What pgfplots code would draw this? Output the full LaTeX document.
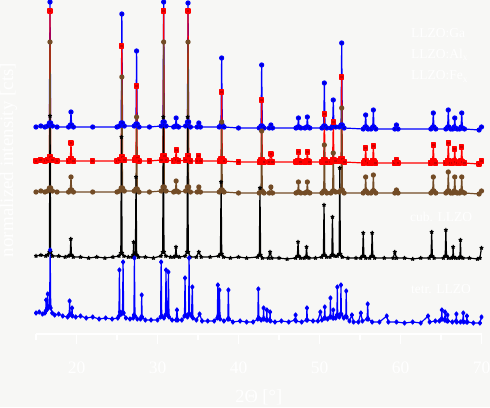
\documentclass[border=0pt]{standalone}
\usepackage{fontspec}
\setmainfont{Liberation Serif}
\usepackage{pgfplots}
\pgfplotsset{compat=1.18}
\definecolor{bg}{RGB}{247,247,245}
\begin{document}
\begin{tikzpicture}
\useasboundingbox (0pt,0pt) rectangle (490pt,407pt);
\fill[bg] (0pt,0pt) rectangle (490pt,407pt);
\begin{axis}[
  at={(36pt,73pt)}, anchor=south west,
  scale only axis, width=445.5pt, height=334pt,
  xmin=15, xmax=70, ymin=0, ymax=334,
  axis x line*=bottom, axis y line*=left,
  y axis line style={draw=none}, ytick=\empty,
  x axis line style={white, line width=1.5pt},
  xtick={20,30,...,70}, minor xtick={15,25,...,65},
  tick align=outside,
  major tick length=10pt, minor tick length=6pt,
  tick style={white, line width=1.2pt},
  /pgf/number format/assume math mode=true,
  xticklabel style={font=\fontsize{17.5}{20}\selectfont, text=white, anchor=base, yshift=-29pt},
  xlabel={2Θ [°]},
  xlabel style={at={(axis description cs:0.5,-0.189)}, anchor=center, font=\fontsize{18.5}{22}\selectfont, text=white},
  ylabel={normalized intensity [cts]},
  ylabel style={at={(axis description cs:-0.0617,0.521)}, anchor=center, font=\fontsize{19}{22}\selectfont, text=white},
  every axis plot/.append style={white, line width=1.2pt, line join=round, mark=none},
]
% LLZO:Ga
\addplot coordinates {(15,207) (15.6,208) (16.1,207) (16.43,208) (16.65,211) (16.73,332) (16.81,211) (17.03,208) (17.6,207) (19.02,207) (19.24,209) (19.32,222) (19.40,209) (19.62,207) (22,207) (25.0,207) (25.30,208) (25.52,211) (25.60,320) (25.68,211) (25.90,208) (27.12,208) (27.34,210) (27.42,283) (27.50,210) (27.72,207) (29,207) (30.46,208) (30.68,212) (30.76,332) (30.84,212) (31.06,208) (32.0,207) (32.22,208) (32.30,216) (32.38,208) (32.6,207) (33.47,208) (33.69,212) (33.77,331) (33.85,212) (34.07,207) (34.9,207) (35.1,211) (35.3,207) (37.62,207) (37.84,209) (37.92,276) (38.0,209) (38.22,207) (40,206) (42.56,206) (42.78,208) (42.86,269) (42.94,208) (43.16,206) (43.8,206) (44.0,209) (44.2,206) (47.1,206) (47.32,207) (47.40,216) (47.48,207) (47.7,206) (48.2,206) (48.42,207) (48.50,217) (48.58,207) (48.8,206) (50.3,206) (50.52,208) (50.60,251) (50.68,208) (50.9,206) (51.4,206) (51.62,208) (51.70,234) (51.78,208) (52.0,207) (52.44,207) (52.66,209) (52.74,291) (52.82,209) (53.04,206) (55.4,205) (55.62,207) (55.70,219) (55.78,207) (56.0,205) (56.35,205) (56.57,207) (56.65,224) (56.73,207) (56.95,205) (59.3,205) (59.5,209) (59.7,205) (63.75,205) (63.97,207) (64.05,221) (64.13,207) (64.35,205) (65.6,205) (65.82,207) (65.90,224) (65.98,207) (66.2,205) (66.45,205) (66.62,207) (66.70,216) (66.78,206) (67.0,205) (67.3,205) (67.48,207) (67.56,221) (67.64,206) (67.9,205) (69.7,204) (70,207)};
% LLZO:Al
\addplot coordinates {(15,173) (15.6,174) (16.1,173) (16.43,174) (16.65,177) (16.73,323) (16.81,177) (17.03,174) (17.6,173) (19.02,173) (19.24,175) (19.32,191) (19.40,175) (19.62,173) (22,173) (25.0,173) (25.30,174) (25.52,177) (25.60,288) (25.68,177) (25.90,174) (27.12,174) (27.34,176) (27.42,248) (27.50,176) (27.72,173) (29,173) (30.46,174) (30.68,178) (30.76,323) (30.84,178) (31.06,174) (32.0,173) (32.22,174) (32.30,184) (32.38,174) (32.6,173) (33.47,174) (33.69,178) (33.77,323) (33.85,178) (34.07,173) (34.9,173) (35.1,178) (35.3,173) (37.62,173) (37.84,175) (37.92,242) (38.0,175) (38.22,173) (40,172) (42.56,172) (42.78,174) (42.86,234) (42.94,174) (43.16,172) (43.8,172) (44.0,180) (44.2,172) (47.1,172) (47.32,173) (47.40,182) (47.48,173) (47.7,172) (48.2,172) (48.42,173) (48.50,182) (48.58,173) (48.8,172) (50.3,172) (50.52,174) (50.60,220) (50.68,174) (50.9,172) (51.4,172) (51.62,174) (51.70,212) (51.78,174) (52.0,173) (52.44,173) (52.66,175) (52.74,257) (52.82,175) (53.04,172) (55.4,171) (55.62,173) (55.70,186) (55.78,173) (56.0,171) (56.35,171) (56.57,173) (56.65,188) (56.73,173) (56.95,171) (59.3,171) (59.5,174) (59.7,171) (63.75,171) (63.97,173) (64.05,189) (64.13,173) (64.35,171) (65.6,171) (65.82,173) (65.90,191) (65.98,173) (66.2,171) (66.45,171) (66.62,173) (66.70,185) (66.78,172) (67.0,171) (67.3,171) (67.48,173) (67.56,187) (67.64,172) (67.9,171) (69.7,170) (70,173)};
% LLZO:Fe
\addplot coordinates {(15,142) (15.6,143) (16.1,142) (16.43,143) (16.65,146) (16.73,292) (16.81,146) (17.03,143) (17.6,142) (19.02,142) (19.24,144) (19.32,157) (19.40,144) (19.62,142) (22,142) (25.0,142) (25.30,143) (25.52,146) (25.60,257) (25.68,146) (25.90,143) (27.12,143) (27.34,145) (27.42,217) (27.50,145) (27.72,142) (29,142) (30.46,143) (30.68,147) (30.76,292) (30.84,147) (31.06,143) (32.0,142) (32.22,143) (32.30,153) (32.38,143) (32.6,142) (33.47,143) (33.69,147) (33.77,292) (33.85,147) (34.07,142) (34.9,142) (35.1,147) (35.3,142) (37.62,142) (37.84,144) (37.92,212) (38.0,144) (38.22,142) (40,141) (42.56,141) (42.78,143) (42.86,203) (42.94,143) (43.16,141) (43.8,141) (44.0,147) (44.2,141) (47.1,141) (47.32,142) (47.40,152) (47.48,142) (47.7,141) (48.2,141) (48.42,142) (48.50,152) (48.58,142) (48.8,141) (50.3,141) (50.52,143) (50.60,189) (50.68,143) (50.9,141) (51.4,141) (51.62,143) (51.70,181) (51.78,143) (52.0,142) (52.44,142) (52.66,144) (52.74,226) (52.82,144) (53.04,141) (55.4,141) (55.62,143) (55.70,157) (55.78,143) (56.0,141) (56.35,141) (56.57,143) (56.65,159) (56.73,143) (56.95,141) (59.3,141) (59.5,144) (59.7,141) (63.75,141) (63.97,143) (64.05,157) (64.13,143) (64.35,141) (65.6,141) (65.82,143) (65.90,162) (65.98,143) (66.2,141) (66.45,141) (66.62,143) (66.70,157) (66.78,142) (67.0,141) (67.3,141) (67.48,143) (67.56,157) (67.64,142) (67.9,141) (69.7,140) (70,143)};
% cub. LLZO
\addplot coordinates {(15,78) (15.6,79) (16.2,78) (16.43,79) (16.65,82) (16.73,218) (16.81,82) (17.03,78) (17.8,78) (18.6,77) (19.0,78) (19.22,79) (19.30,95) (19.38,79) (19.6,77) (20.5,77) (21.5,76) (22.5,77) (23.5,76) (24.5,77) (25.25,78) (25.47,81) (25.55,197) (25.63,81) (25.85,78) (26.4,77) (26.85,77) (27.0,79) (27.05,92) (27.1,79) (27.27,80) (27.35,157) (27.43,79) (27.65,77) (28.5,77) (29.5,76) (30.42,78) (30.64,82) (30.72,217) (30.80,82) (31.02,78) (31.6,77) (32.0,77) (32.2,78) (32.28,87) (32.36,78) (32.7,77) (33.42,78) (33.64,82) (33.72,217) (33.80,82) (34.02,77) (34.8,77) (35.1,82) (35.4,77) (36.5,77) (37.55,78) (37.77,80) (37.85,152) (37.93,80) (38.15,77) (39,76) (40,77) (41,76) (42.35,77) (42.57,79) (42.65,146) (42.73,79) (42.95,76) (43.7,76) (43.9,82) (44.1,76) (45,76) (46,75) (47.05,76) (47.27,78) (47.35,92) (47.43,78) (47.65,76) (48.1,76) (48.32,77) (48.40,87) (48.48,77) (48.7,76) (49.5,76) (50.26,77) (50.48,79) (50.56,129) (50.64,79) (50.86,77) (51.3,77) (51.52,79) (51.60,117) (51.68,79) (51.9,78) (52.2,78) (52.42,80) (52.50,166) (52.58,80) (52.8,77) (53.5,76) (54.5,76) (55.1,76) (55.32,78) (55.40,101) (55.48,78) (55.7,76) (56.2,76) (56.42,78) (56.50,101) (56.58,78) (56.8,76) (58,76) (59.1,76) (59.3,82) (59.5,76) (60.5,76) (61.5,75) (62.5,76) (63.55,76) (63.77,78) (63.85,102) (63.93,78) (64.15,76) (65.3,76) (65.52,78) (65.60,104) (65.68,78) (65.9,76) (66.3,76) (66.45,77) (66.50,87) (66.55,77) (66.8,76) (67.2,76) (67.34,77) (67.40,94) (67.46,77) (67.7,76) (68.5,76) (69.5,75) (69.8,76) (70,86)};
% tetr. LLZO
\addplot coordinates {(15,21) (15.4,22) (15.8,20) (16.1,21) (16.2,23) (16.25,34) (16.3,24) (16.4,25) (16.45,40) (16.5,27) (16.68,28) (16.75,84) (16.82,26) (17.0,21) (17.3,19) (17.8,20) (18.3,18) (18.9,17) (19.1,19) (19.15,33) (19.22,20) (19.4,19) (19.45,26) (19.5,18) (19.9,17) (20.5,18) (21.2,16) (22,17) (22.8,15) (23.6,16) (24.4,15) (25.1,16) (25.24,18) (25.30,64) (25.36,22) (25.55,20) (25.68,22) (25.75,72) (25.82,21) (26.1,16) (26.6,15) (27.0,16) (27.09,19) (27.15,76) (27.22,18) (27.5,15) (27.9,15) (28.0,17) (28.05,39) (28.1,17) (28.5,14) (29.2,14) (30.0,14) (30.38,17) (30.45,72) (30.52,18) (30.8,16) (30.98,19) (31.05,64) (31.12,20) (31.28,19) (31.35,62) (31.42,17) (31.8,14) (32.3,14) (32.40,24) (32.5,14) (33.0,14) (33.33,18) (33.40,56) (33.47,19) (33.7,17) (33.84,20) (33.90,76) (33.96,20) (34.2,18) (34.30,47) (34.37,16) (34.8,14) (35.2,20) (35.5,13) (36.2,13) (37.0,13) (37.38,16) (37.45,49) (37.52,18) (37.6,18) (37.65,44) (37.72,15) (38.2,13) (38.68,15) (38.75,44) (38.82,15) (39.3,12) (40.2,13) (41.0,12) (41.8,12) (42.38,15) (42.45,45) (42.52,16) (42.8,14) (43.05,15) (43.10,26) (43.15,15) (43.45,14) (43.50,24) (43.55,14) (43.85,14) (43.90,22) (43.95,13) (44.5,12) (45.3,13) (46.2,12) (47.0,14) (47.05,19) (47.1,13) (47.8,12) (48.4,14) (48.45,26) (48.5,14) (49.2,13) (49.8,13) (50.1,22) (50.3,14) (50.6,16) (50.65,27) (50.7,16) (51.0,15) (51.3,17) (51.35,36) (51.4,17) (51.65,16) (51.70,24) (51.75,16) (52.0,16) (52.15,19) (52.20,47) (52.25,19) (52.45,17) (52.60,20) (52.65,49) (52.70,20) (53.0,16) (53.25,18) (53.30,43) (53.35,17) (53.7,13) (54.0,19) (54.2,12) (54.8,12) (55.1,21) (55.3,13) (55.88,15) (55.95,30) (56.02,15) (56.5,12) (57.4,12) (58.3,18) (58.5,12) (59.5,12) (60.5,11) (61.5,12) (62.5,11) (63.4,18) (63.6,12) (64.3,13) (64.8,13) (65.05,15) (65.10,24) (65.15,15) (65.45,14) (65.50,22) (65.55,14) (65.75,13) (65.80,19) (65.85,13) (66.4,12) (66.85,13) (66.90,20) (66.95,12) (67.4,12) (67.70,13) (67.75,21) (67.8,12) (68.15,12) (68.20,18) (68.25,12) (69,11) (69.8,11) (70,17)};
\begin{scope}[every node/.style={anchor=base west, inner sep=0pt, text=white, font=\fontsize{13.5}{16}\selectfont}]
\node at (axis cs:61.3,296.7) {LLZO:Ga};
\node at (axis cs:61.3,275.7) {LLZO:Al\textsubscript{x}};
\node at (axis cs:61.3,254) {LLZO:Fe\textsubscript{x}};
\node at (axis cs:61.17,112.3) {cub. LLZO};
\node at (axis cs:61.3,40.7) {tetr. LLZO};
\end{scope}
\end{axis}
\end{tikzpicture}
\end{document}
